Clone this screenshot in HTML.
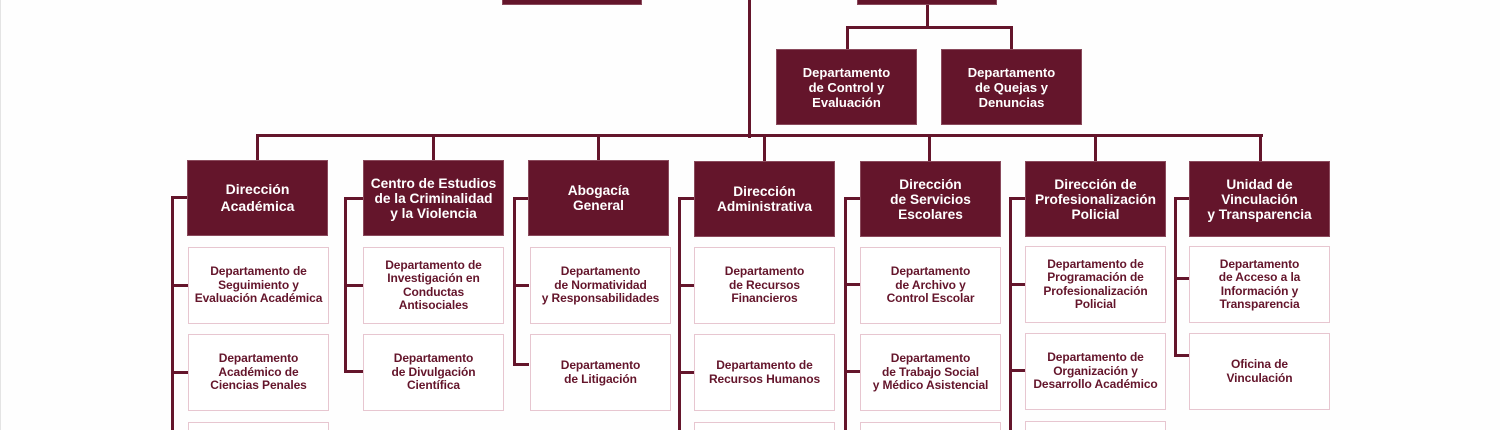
<!DOCTYPE html>
<html><head><meta charset="utf-8"><style>
html,body{margin:0;padding:0;width:1500px;height:430px;overflow:hidden;background:#fefefe;}
body{position:relative;font-family:"Liberation Sans",Arial,sans-serif;font-weight:bold;}
.edge{position:absolute;left:0;top:0;width:1px;height:430px;background:#e4e4e4}
.l{position:absolute;background:#64152b}
.h{position:absolute;background:#64152b;color:#fff;display:flex;align-items:center;justify-content:center;text-align:center;font-size:13.7px;line-height:15px;box-sizing:border-box;border:1px solid #8a4a5c}
.c{position:absolute;background:#fff;color:#64152b;border:1px solid #e7c6d0;display:flex;align-items:center;justify-content:center;text-align:center;font-size:12px;line-height:13.5px;box-sizing:border-box;width:141px;height:77px;letter-spacing:-0.1px}
.s{font-size:13px;line-height:15px}
</style></head><body>
<div class="edge"></div>
<div class="h" style="left:502px;top:-20px;width:140px;height:25px"></div>
<div class="h" style="left:857px;top:-20px;width:140px;height:25px"></div>
<div class="l" style="left:748px;top:0;width:3px;height:138px"></div>
<div class="l" style="left:926px;top:5px;width:3px;height:24px"></div>
<div class="l" style="left:846px;top:26px;width:167px;height:3px"></div>
<div class="l" style="left:846px;top:26px;width:3px;height:24px"></div>
<div class="l" style="left:1010px;top:26px;width:3px;height:24px"></div>
<div class="h s" style="left:776px;top:49px;width:141px;height:76px">Departamento<br>de Control y<br>Evaluación</div>
<div class="h s" style="left:941px;top:49px;width:141px;height:76px">Departamento<br>de Quejas y<br>Denuncias</div>
<div class="l" style="left:256px;top:134px;width:1007px;height:3px"></div>

<div class="l" style="left:256px;top:134px;width:3px;height:27px"></div>
<div class="l" style="left:432px;top:134px;width:3px;height:27px"></div>
<div class="l" style="left:597px;top:134px;width:3px;height:27px"></div>
<div class="l" style="left:763px;top:134px;width:3px;height:27px"></div>
<div class="l" style="left:928px;top:134px;width:3px;height:27px"></div>
<div class="l" style="left:1094px;top:134px;width:3px;height:27px"></div>
<div class="l" style="left:1259px;top:134px;width:3px;height:27px"></div>

<div class="l" style="left:171px;top:196px;width:3px;height:234px"></div><div class="l" style="left:171px;top:196px;width:17px;height:3px"></div>
<div class="l" style="left:344px;top:197px;width:3px;height:176px"></div><div class="l" style="left:344px;top:197px;width:20px;height:3px"></div>
<div class="l" style="left:513px;top:197px;width:3px;height:169px"></div><div class="l" style="left:513px;top:197px;width:16px;height:3px"></div>
<div class="l" style="left:678px;top:197px;width:3px;height:233px"></div><div class="l" style="left:678px;top:197px;width:17px;height:3px"></div>
<div class="l" style="left:844px;top:197px;width:3px;height:233px"></div><div class="l" style="left:844px;top:197px;width:17px;height:3px"></div>
<div class="l" style="left:1009px;top:197px;width:3px;height:233px"></div><div class="l" style="left:1009px;top:197px;width:17px;height:3px"></div>
<div class="l" style="left:1174px;top:197px;width:3px;height:160px"></div><div class="l" style="left:1174px;top:197px;width:16px;height:3px"></div>

<div class="l" style="left:171px;top:284px;width:17px;height:3px"></div>
<div class="l" style="left:171px;top:371px;width:17px;height:3px"></div>
<div class="l" style="left:344px;top:284px;width:20px;height:3px"></div>
<div class="l" style="left:344px;top:370px;width:20px;height:3px"></div>
<div class="l" style="left:513px;top:284px;width:16px;height:3px"></div>
<div class="l" style="left:513px;top:363px;width:16px;height:3px"></div>
<div class="l" style="left:678px;top:284px;width:17px;height:3px"></div>
<div class="l" style="left:678px;top:371px;width:17px;height:3px"></div>
<div class="l" style="left:844px;top:283px;width:17px;height:3px"></div>
<div class="l" style="left:844px;top:370px;width:17px;height:3px"></div>
<div class="l" style="left:1009px;top:283px;width:17px;height:3px"></div>
<div class="l" style="left:1009px;top:369px;width:17px;height:3px"></div>
<div class="l" style="left:1174px;top:277px;width:16px;height:3px"></div>
<div class="l" style="left:1174px;top:354px;width:16px;height:3px"></div>

<div class="h" style="left:187px;top:160px;width:141px;height:76px;font-size:14px;line-height:17px">Dirección<br>Académica</div>
<div class="h" style="left:363px;top:160px;width:141px;height:76px">Centro de Estudios<br>de la Criminalidad<br>y la Violencia</div>
<div class="h" style="left:528px;top:160px;width:141px;height:76px">Abogacía<br>General</div>
<div class="h" style="left:694px;top:161px;width:141px;height:76px">Dirección<br>Administrativa</div>
<div class="h" style="left:860px;top:161px;width:141px;height:76px">Dirección<br>de Servicios<br>Escolares</div>
<div class="h" style="left:1025px;top:161px;width:141px;height:76px">Dirección de<br>Profesionalización<br>Policial</div>
<div class="h" style="left:1189px;top:161px;width:141px;height:76px">Unidad de<br>Vinculación<br>y Transparencia</div>

<div class="c" style="left:188px;top:247px">Departamento de<br>Seguimiento y<br>Evaluación Académica</div>
<div class="c" style="left:188px;top:334px">Departamento<br>Académico de<br>Ciencias Penales</div>
<div class="c" style="left:188px;top:422px;height:8px;border-bottom:none"></div>
<div class="c" style="left:363px;top:247px">Departamento de<br>Investigación en<br>Conductas<br>Antisociales</div>
<div class="c" style="left:363px;top:334px">Departamento<br>de Divulgación<br>Científica</div>
<div class="c" style="left:530px;top:247px">Departamento<br>de Normatividad<br>y Responsabilidades</div>
<div class="c" style="left:530px;top:334px">Departamento<br>de Litigación</div>
<div class="c" style="left:694px;top:247px">Departamento<br>de Recursos<br>Financieros</div>
<div class="c" style="left:694px;top:334px">Departamento de<br>Recursos Humanos</div>
<div class="c" style="left:694px;top:422px;height:8px;border-bottom:none"></div>
<div class="c" style="left:860px;top:247px">Departamento<br>de Archivo y<br>Control Escolar</div>
<div class="c" style="left:860px;top:334px">Departamento<br>de Trabajo Social<br>y Médico Asistencial</div>
<div class="c" style="left:860px;top:422px;height:8px;border-bottom:none"></div>
<div class="c" style="left:1025px;top:246px">Departamento de<br>Programación de<br>Profesionalización<br>Policial</div>
<div class="c" style="left:1025px;top:333px">Departamento de<br>Organización y<br>Desarrollo Académico</div>
<div class="c" style="left:1025px;top:421px;height:9px;border-bottom:none"></div>
<div class="c" style="left:1189px;top:246px">Departamento<br>de Acceso a la<br>Información y<br>Transparencia</div>
<div class="c" style="left:1189px;top:333px">Oficina de<br>Vinculación</div>
</body></html>
